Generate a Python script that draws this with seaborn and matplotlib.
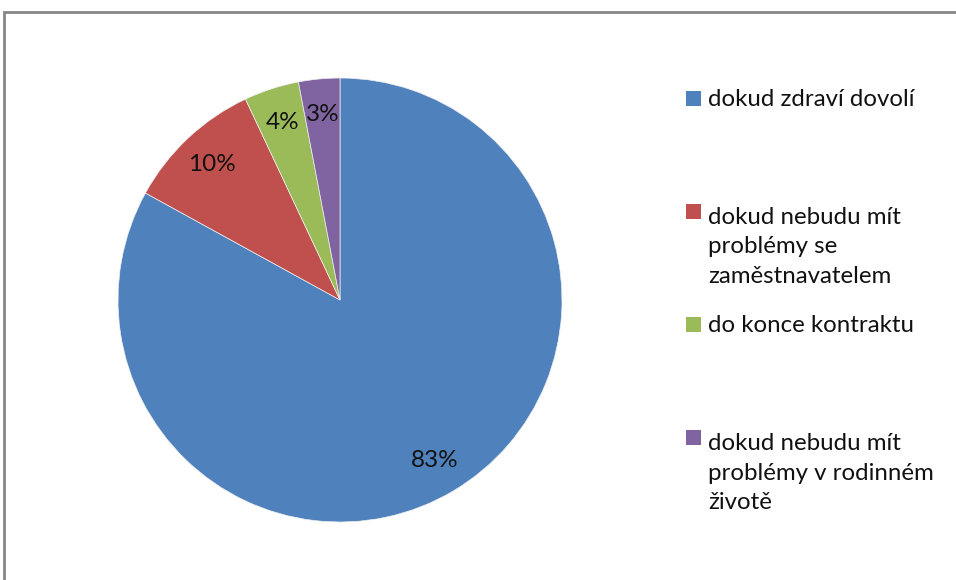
import matplotlib.pyplot as plt
import seaborn as sns
from matplotlib.patches import Rectangle

# data
kategorie = [
    "dokud zdraví dovolí",
    "dokud nebudu mít\nproblémy se\nzaměstnavatelem",
    "do konce kontraktu",
    "dokud nebudu mít\nproblémy v rodinném\nživotě",
]
podily = [83, 10, 4, 3]
barvy = ["#4F81BD", "#C0504D", "#9BBB59", "#8064A2"]

sns.set_theme(style="white")
plt.rcParams["font.family"] = ["Lato", "DejaVu Sans"]

W, H = 956, 580
fig = plt.figure(figsize=(W / 100, H / 100), dpi=100)

# chart frame (only top and left edges visible in the crop)
fig.patches.append(Rectangle((4 / W, -0.1), 1.2, (H - 12) / H + 0.1,
                             transform=fig.transFigure, fill=False,
                             edgecolor="#868686", linewidth=2))

# pie centred at (340, 300), radius 222 px
cx, cy, r = 340, 300, 222
ax = fig.add_axes([(cx - r) / W, (H - cy - r) / H, 2 * r / W, 2 * r / H])
wedges, _, autotexts = ax.pie(podily, colors=barvy, startangle=90, counterclock=False,
                              autopct="%d%%", pctdistance=0.84,
                              wedgeprops=dict(linewidth=0.5, edgecolor="#f0f0f0"),
                              textprops=dict(fontsize=17.5, color="#111111"))
ax.set_xlim(-1, 1)
ax.set_ylim(-1, 1)
ax.set_aspect("equal")

# legend: entries start every 113 px, lines 32 px apart
for i, (lab, col) in enumerate(zip(kategorie, barvy)):
    base = 106 + i * 113
    n = lab.count("\n")
    fig.patches.append(Rectangle((686 / W, 1 - base / H), 15 / W, 15 / H,
                                 transform=fig.transFigure, facecolor=col,
                                 edgecolor="none"))
    fig.text(708 / W, 1 - (base + n * 32) / H, lab, fontsize=17.3, color="#111111",
             va="baseline", ha="left", linespacing=1.5)

fig.savefig("out.png", dpi=100, facecolor="white")
